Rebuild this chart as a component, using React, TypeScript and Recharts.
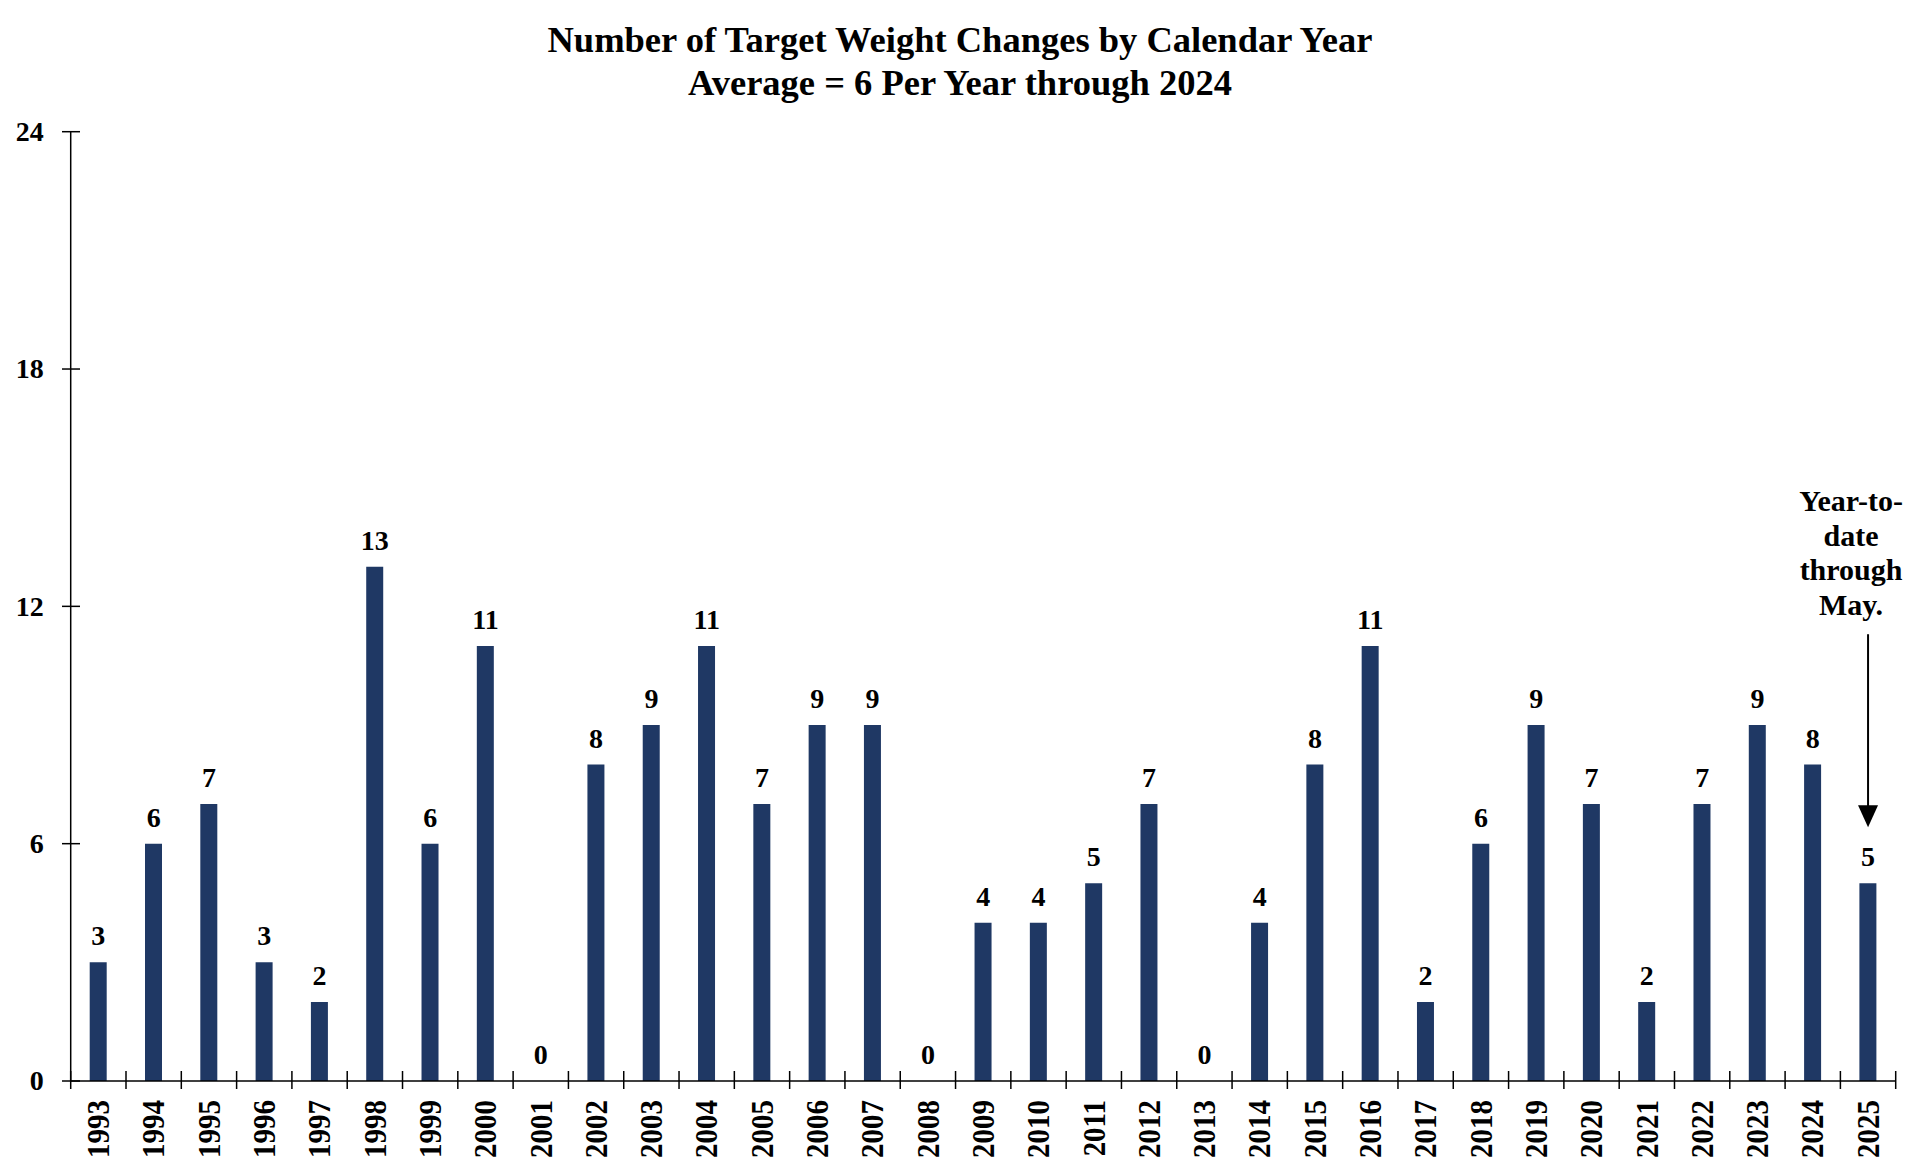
import React from "react";
import { ComposedChart, Bar, Line, XAxis, YAxis, LabelList, ReferenceDot } from "recharts";

// Chart data
const years = [
  "1993", "1994", "1995", "1996", "1997", "1998", "1999", "2000", "2001", "2002", "2003",
  "2004", "2005", "2006", "2007", "2008", "2009", "2010", "2011", "2012", "2013", "2014",
  "2015", "2016", "2017", "2018", "2019", "2020", "2021", "2022", "2023", "2024", "2025",
];
const changes = [
  3, 6, 7, 3, 2, 13, 6, 11, 0, 8, 9, 11, 7, 9, 9, 0, 4, 4, 5, 7, 0, 4, 8, 11, 2, 6, 9, 7, 2, 7, 9, 8, 5,
];
const yTicks = [0, 6, 12, 18, 24];
const titleLines = ["Number of Target Weight Changes by Calendar Year", "Average = 6 Per Year through 2024"];
const ytdNote = ["Year-to-", "date", "through", "May."];

const data = years.map((year, i) => ({ year, changes: changes[i] }));

// Layout
const W = 1920;
const H = 1174;
const PLOT_LEFT = 70.7;
const PLOT_RIGHT = 1895.7;
const PLOT_TOP = 131.7;
const PLOT_BOTTOM = 1081;
const BAND = (PLOT_RIGHT - PLOT_LEFT) / years.length;
const FONT = "'Liberation Serif', 'Times New Roman', serif";
const NAVY = "#1f3864";

const XTick = (props: any) => {
  const { x, y, payload, index } = props;
  const left = x - BAND / 2;
  const right = x + BAND / 2;
  return (
    <g>
      <line x1={left} x2={left} y1={y - 10} y2={y + 8} stroke="#000" strokeWidth={1.5} />
      {index === years.length - 1 && (
        <line x1={right} x2={right} y1={y - 10} y2={y + 8} stroke="#000" strokeWidth={1.5} />
      )}
      <text
        transform={`translate(${x},${y + 19}) rotate(-90) scale(1,1.12)`}
        textAnchor="end"
        dy="0.33em"
        fontFamily={FONT}
        fontWeight="bold"
        fontSize={29}
        fill="#000"
      >
        {payload.value}
      </text>
    </g>
  );
};

const YTick = (props: any) => {
  const { x, y, payload } = props;
  return (
    <g>
      <line x1={x - 8.7} x2={x + 9.3} y1={y} y2={y} stroke="#000" strokeWidth={1.5} />
      <text
        x={x - 27}
        y={y}
        dy="0.33em"
        textAnchor="end"
        fontFamily={FONT}
        fontWeight="bold"
        fontSize={28}
        fill="#000"
      >
        {payload.value}
      </text>
    </g>
  );
};

// value label above each bar (drawn from an invisible line so zero years get one too)
const ValueLabel = (props: any) => {
  const x = Number(props.x);
  const y = Number(props.y);
  if (!isFinite(x) || !isFinite(y)) return null;
  return (
    <text x={x} y={y - 17} textAnchor="middle" fontFamily={FONT} fontWeight="bold" fontSize={28} fill="#000">
      {props.value}
    </text>
  );
};

// note + arrow above the last (partial) year
const YtdNote = (props: any) => {
  const { cx, cy } = props;
  if (cx == null || cy == null) return null;
  return (
    <g>
      {ytdNote.map((line, i) => (
        <text
          key={i}
          x={cx - 17}
          y={cy - 372 + i * 34.5}
          textAnchor="middle"
          fontFamily={FONT}
          fontWeight="bold"
          fontSize={30}
          fill="#000"
        >
          {line}
        </text>
      ))}
      <line x1={cx} x2={cx} y1={cy - 249} y2={cy - 76} stroke="#000" strokeWidth={2} />
      <polygon points={`${cx - 10},${cy - 78} ${cx + 10},${cy - 78} ${cx},${cy - 56}`} fill="#000" />
    </g>
  );
};

export default function App() {
  return (
    <div style={{ position: "absolute", left: 0, top: 0, width: W, height: H, background: "#fff" }}>
      <div
        style={{
          position: "absolute",
          left: 0,
          top: 19,
          width: W,
          textAlign: "center",
          fontFamily: FONT,
          fontWeight: "bold",
          fontSize: 36.5,
          lineHeight: "42.5px",
          color: "#000",
        }}
      >
        {titleLines.map((t, i) => (
          <div key={i}>{t}</div>
        ))}
      </div>
      <ComposedChart
        width={W}
        height={H}
        data={data}
        margin={{ top: PLOT_TOP, right: W - PLOT_RIGHT, bottom: 0, left: 0 }}
      >
        <XAxis
          dataKey="year"
          height={H - PLOT_BOTTOM}
          interval={0}
          tickLine={false}
          tickSize={0}
          tickMargin={0}
          axisLine={{ stroke: "#000", strokeWidth: 1.5 }}
          tick={<XTick />}
        />
        <YAxis
          width={PLOT_LEFT}
          domain={[0, 24]}
          ticks={yTicks}
          interval={0}
          tickLine={false}
          tickSize={0}
          tickMargin={0}
          axisLine={{ stroke: "#000", strokeWidth: 1.5 }}
          tick={<YTick />}
        />
        <Bar dataKey="changes" fill={NAVY} barSize={17} isAnimationActive={false} />
        <Line
          dataKey="changes"
          stroke="none"
          dot={false}
          activeDot={false}
          legendType="none"
          isAnimationActive={false}
        >
          <LabelList dataKey="changes" content={<ValueLabel />} />
        </Line>
        <ReferenceDot
          x={years[years.length - 1]}
          y={changes[changes.length - 1]}
          r={0}
          ifOverflow="visible"
          shape={(p: any) => <YtdNote {...p} />}
        />
      </ComposedChart>
    </div>
  );
}
